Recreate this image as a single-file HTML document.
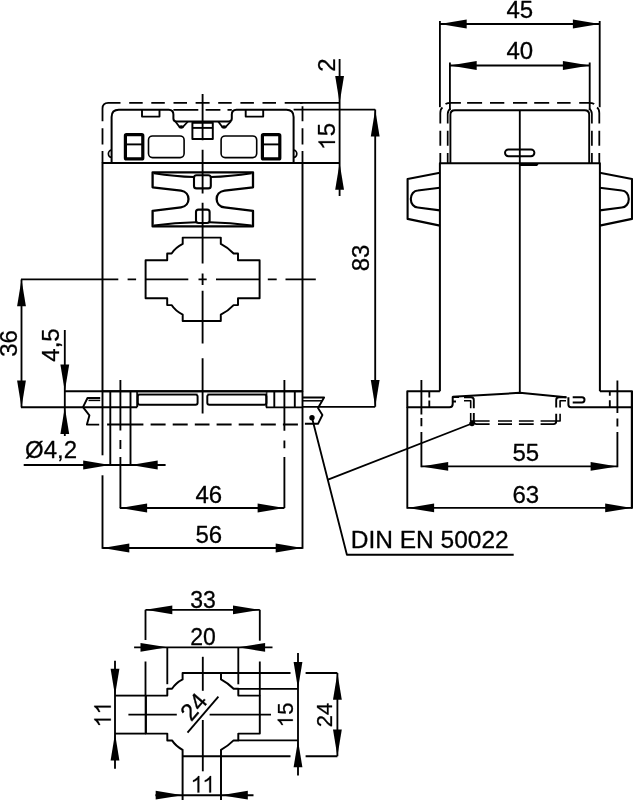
<!DOCTYPE html>
<html><head><meta charset="utf-8"><style>
html,body{margin:0;padding:0;background:#fff;}
body{width:633px;height:800px;overflow:hidden;}
svg{display:block;will-change:transform;}
svg text{font-family:"Liberation Sans",sans-serif;fill:#000;stroke:#000;stroke-width:0.3px;}
</style></head><body>
<svg width="633" height="800" viewBox="0 0 633 800" stroke="#000" fill="none" stroke-linecap="butt" stroke-linejoin="round">
<path d="M102.5,121.2 V108.5 Q102.5,102.8 108.2,102.8 H120.5 M129.2,102.8 H142.7 M151.3,102.8 H164.8 M173.5,102.8 H187 M195.6,102.8 H209.6 M218.2,102.8 H231.7 M240.4,102.8 H253.9 M262.5,102.8 H276 M284.7,102.8 H302.5 M302.5,106.3 V121.2 M102.5,128.3 V144.5 M102.5,151 V163 M302.5,128.3 V144.5 M302.5,151 V163" stroke-width="1.8" fill="none"/>
<path d="M111.6,163 V117 Q111.6,109.8 118.8,109.8 H168.7 Q173.4,110 173.4,114.5 V118.5 Q173.4,121.5 176.5,121.5 H228.7 Q231.8,121.5 231.8,118.5 V114.5 Q231.8,110 236.5,109.8 H286.4 Q293.6,109.8 293.6,117 V163" stroke-width="2" fill="none"/>
<path d="M173.4,109.8 H198.3 M205.6,109.8 H220.4 M227.5,109.8 H231.8" stroke-width="1.8" fill="none"/>
<polyline points="142,109.8 142,116.6 159.5,116.6 159.5,109.8" stroke-width="1.9" fill="none"/>
<polyline points="245.7,109.8 245.7,116.6 263.2,116.6 263.2,109.8" stroke-width="1.9" fill="none"/>
<rect x="125.4" y="134.7" width="17.4" height="24.2" rx="1" stroke-width="3.2" fill="none"/>
<line x1="124.8" y1="144.4" x2="143.4" y2="144.4" stroke-width="1.9"/>
<rect x="262.4" y="134.7" width="17.4" height="24.2" rx="1" stroke-width="3.2" fill="none"/>
<line x1="261.8" y1="144.4" x2="280.4" y2="144.4" stroke-width="1.9"/>
<rect x="148.5" y="136" width="35.6" height="21.6" rx="4" stroke-width="1.6" fill="none"/>
<rect x="221.1" y="136" width="35.6" height="21.6" rx="4" stroke-width="1.6" fill="none"/>
<path d="M111.6,150.2 A3.2,3.6 0 0 0 111.6,157.4" stroke-width="1.7" fill="none"/>
<path d="M293.6,150.2 A3.2,3.6 0 0 1 293.6,157.4" stroke-width="1.7" fill="none"/>
<rect x="192.4" y="122.7" width="20.4" height="16.4" stroke-width="1.95" fill="none"/>
<line x1="192.4" y1="127.9" x2="212.8" y2="127.9" stroke-width="1.9"/>
<polyline points="175.4,121.5 179.7,127.2 182.7,127.2 188,121.5" stroke-width="1.8" fill="none"/>
<ellipse cx="181.2" cy="127" rx="2.6" ry="1.8" fill="#000" stroke="none"/>
<polyline points="218.2,121.5 222.5,127.2 225.5,127.2 230.8,121.5" stroke-width="1.8" fill="none"/>
<ellipse cx="224" cy="127" rx="2.6" ry="1.8" fill="#000" stroke="none"/>
<rect x="102.5" y="163" width="200" height="228.3" stroke-width="1.95" fill="none"/>
<path d="M152.6,172.3 H253 V187.3 L224.6,190.6 C214,192 214,206 224.6,207.4 L253,210.8 V226.4 H152.6 V210.8 L181,207.4 C191,206 191,192 181,190.6 L152.6,187.3 Z" stroke-width="2.3" fill="none"/>
<path d="M154,173.2 Q175,176.5 194,177" stroke-width="2" fill="none"/>
<path d="M251.6,173.2 Q230,176.5 210.8,177" stroke-width="2" fill="none"/>
<path d="M154,225.5 Q175,222.7 196,222.3" stroke-width="2" fill="none"/>
<path d="M251.6,225.5 Q230,222.7 209.6,222.3" stroke-width="2" fill="none"/>
<rect x="194" y="175.2" width="16.8" height="13.2" rx="2.5" stroke-width="2.1" fill="none"/>
<rect x="196" y="209.6" width="13.6" height="13.4" rx="2.5" stroke-width="2.1" fill="none"/>
<path d="M145.6,260.3 L167.2,260.3 L167.2,253.5 L171.6,253.5 Q175.3,247.7 182.7,243.9 L182.7,237.6 L220.8,237.6 L220.8,243.9 Q228.2,247.7 233.6,253.5 L238,253.5 L238,260.3 L259.6,260.3 L259.6,298.3 L238,298.3 L238,305.1 L233.6,305.1 Q228.2,310.9 220.8,314.7 L220.8,321 L182.7,321 L182.7,314.7 Q175.3,310.9 171.6,305.1 L167.2,305.1 L167.2,298.3 L145.6,298.3 Z" stroke-width="1.95" fill="none"/>
<path d="M202.6,94 V140.3 M202.6,149.7 V193.4 M202.6,202.8 V263.6 M202.6,273.5 V285 M202.6,290.7 V343.6 M202.6,358.2 V413.4" stroke-width="1.85" fill="none"/>
<path d="M21,279.3 H118.3 M127.6,279.3 H136.1 M145.5,279.3 H188.3 M198.5,279.3 H206.7 M216,279.3 H259.7 M267.8,279.3 H276.7 M285.5,279.3 H315.8" stroke-width="1.85" fill="none"/>
<line x1="64.5" y1="391.3" x2="302.5" y2="391.3" stroke-width="1.9"/>
<line x1="21" y1="407.2" x2="137.2" y2="407.2" stroke-width="1.9"/>
<line x1="266" y1="407.4" x2="302.5" y2="407.4" stroke-width="1.9"/>
<line x1="110.3" y1="391.3" x2="110.3" y2="407.2" stroke-width="1.9"/>
<line x1="130.5" y1="391.3" x2="130.5" y2="407.2" stroke-width="1.9"/>
<line x1="137.2" y1="391.3" x2="137.2" y2="407.2" stroke-width="1.9"/>
<line x1="274.3" y1="391.3" x2="274.3" y2="407.4" stroke-width="1.9"/>
<line x1="294.8" y1="391.3" x2="294.8" y2="407.4" stroke-width="1.9"/>
<line x1="266.4" y1="391.3" x2="266.4" y2="407.4" stroke-width="1.9"/>
<rect x="137.8" y="394.6" width="59.8" height="10.2" rx="2" stroke-width="1.95" fill="none"/>
<rect x="207.3" y="394.6" width="59.1" height="10.2" rx="2" stroke-width="1.95" fill="none"/>
<path d="M137.8,393 H197.6 M207.3,393 H266.4" stroke="#8a8a8a" stroke-width="1.5"/>
<line x1="110.3" y1="407.2" x2="110.3" y2="465.5" stroke-width="1.9"/>
<line x1="130.5" y1="407.2" x2="130.5" y2="465.5" stroke-width="1.9"/>
<path d="M120.4,380 V430.5 M120.4,440 V449 M120.4,457 V508" stroke-width="1.85" fill="none"/>
<path d="M284.4,380 V430.8 M284.4,440.4 V448.3 M284.4,457 V508" stroke-width="1.85" fill="none"/>
<path d="M107.1,424.5 H143.4 M150.6,424.5 H165.6 M172.7,424.5 H187.7 M194.8,424.5 H209.5 M216.6,424.5 H231.6 M238.7,424.5 H253.7 M260.8,424.5 H275.8 M282.9,424.5 H297.9" stroke-width="1.9" fill="none"/>
<polyline points="100.2,398 87.5,398 83,407.2 89.4,415.4 86.9,424.6 99.2,424.6" stroke-width="1.9" fill="none"/>
<line x1="88.5" y1="400.4" x2="100.2" y2="400.4" stroke-width="1.5"/>
<polyline points="302.5,397.5 324.1,397.5 318,408 322.4,415 318,423.8 304.9,423.8" stroke-width="1.9" fill="none"/>
<line x1="302.5" y1="400.8" x2="322" y2="400.8" stroke-width="1.5"/>
<line x1="102.5" y1="391.3" x2="102.5" y2="455.3" stroke-width="1.9"/>
<line x1="102.5" y1="475.3" x2="102.5" y2="548.8" stroke-width="1.9"/>
<line x1="302.5" y1="391.3" x2="302.5" y2="548.8" stroke-width="1.9"/>
<line x1="300" y1="102.9" x2="339.6" y2="102.9" stroke-width="1.85"/>
<line x1="293.6" y1="109.6" x2="375.2" y2="109.6" stroke-width="1.85"/>
<line x1="302.5" y1="163" x2="339.6" y2="163" stroke-width="1.85"/>
<line x1="339.6" y1="59" x2="339.6" y2="196" stroke-width="1.85"/>
<polygon points="339.6,102.9 335.2,76.1 344,76.1" stroke="none" fill="#000"/>
<polygon points="339.6,163 344,189.8 335.2,189.8" stroke="none" fill="#000"/>
<text transform="translate(335.3 65.2) rotate(-90)" font-size="24" text-anchor="middle">2</text>
<g transform="translate(335 136.5) rotate(-90)"><path d="M0.29,0 H0.366 V0.69 H0.316 C0.29,0.63 0.2,0.55 0.103,0.51 V0.44 C0.18,0.465 0.25,0.505 0.29,0.545 Z" transform="translate(-13.51 0) scale(24 -24)" fill="#000" stroke="#000" stroke-width="0.01"/><text x="0.17" y="0" font-size="24">5</text></g>
<line x1="375.2" y1="109.6" x2="375.2" y2="406.8" stroke-width="1.85"/>
<line x1="302.5" y1="406.8" x2="375.2" y2="406.8" stroke-width="1.85"/>
<polygon points="375.2,109.6 379.6,136.4 370.8,136.4" stroke="none" fill="#000"/>
<polygon points="375.2,406.8 370.8,380 379.6,380" stroke="none" fill="#000"/>
<text transform="translate(368.8 258) rotate(-90)" font-size="24" text-anchor="middle">83</text>
<line x1="21.5" y1="279.5" x2="21.5" y2="407.4" stroke-width="1.85"/>
<polygon points="21.5,279.5 25.9,306.3 17.1,306.3" stroke="none" fill="#000"/>
<polygon points="21.5,407.4 17.1,380.6 25.9,380.6" stroke="none" fill="#000"/>
<text transform="translate(17.4 343.5) rotate(-90)" font-size="24" text-anchor="middle">36</text>
<line x1="64.8" y1="330" x2="64.8" y2="436" stroke-width="1.85"/>
<polygon points="64.8,391.3 60.4,364.5 69.2,364.5" stroke="none" fill="#000"/>
<polygon points="64.8,407.2 69.2,434 60.4,434" stroke="none" fill="#000"/>
<text transform="translate(58.5 345) rotate(-90)" font-size="24" text-anchor="middle">4,5</text>
<line x1="23.7" y1="465" x2="165.6" y2="465" stroke-width="1.85"/>
<polygon points="110,465 83.2,469.4 83.2,460.6" stroke="none" fill="#000"/>
<polygon points="130.9,465 157.7,460.6 157.7,469.4" stroke="none" fill="#000"/>
<text x="25" y="458" font-size="24" text-anchor="start">Ø4,2</text>
<line x1="119.8" y1="508" x2="284.4" y2="508" stroke-width="1.85"/>
<polygon points="120.3,508 147.1,503.6 147.1,512.4" stroke="none" fill="#000"/>
<polygon points="284.4,508 257.6,512.4 257.6,503.6" stroke="none" fill="#000"/>
<text x="208.8" y="502.5" font-size="24" text-anchor="middle">46</text>
<line x1="102.5" y1="548" x2="302.5" y2="548" stroke-width="1.85"/>
<polygon points="102.5,548 129.3,543.6 129.3,552.4" stroke="none" fill="#000"/>
<polygon points="302.5,548 275.7,552.4 275.7,543.6" stroke="none" fill="#000"/>
<text x="208.8" y="542.5" font-size="24" text-anchor="middle">56</text>
<circle cx="312" cy="417.8" r="2.7" fill="#000" stroke="none"/>
<circle cx="472" cy="423.5" r="2.7" fill="#000" stroke="none"/>
<polyline points="312,417.8 346.9,554.7 513.7,554.7" stroke-width="1.85" fill="none"/>
<line x1="472" y1="423.5" x2="328" y2="479.6" stroke-width="1.85"/>
<text x="350.7" y="547.9" font-size="24.5" text-anchor="start">DIN EN 50022</text>
<line x1="439.9" y1="21" x2="439.9" y2="107.2" stroke-width="1.85"/>
<line x1="599.7" y1="21" x2="599.7" y2="107.2" stroke-width="1.85"/>
<line x1="449.9" y1="62.5" x2="449.9" y2="110" stroke-width="1.85"/>
<line x1="589.7" y1="62.5" x2="589.7" y2="110" stroke-width="1.85"/>
<line x1="439.9" y1="24" x2="599.7" y2="24" stroke-width="1.85"/>
<polygon points="439.9,24 466.7,19.6 466.7,28.4" stroke="none" fill="#000"/>
<polygon points="599.7,24 572.9,28.4 572.9,19.6" stroke="none" fill="#000"/>
<text x="519.8" y="17.7" font-size="24" text-anchor="middle">45</text>
<line x1="449.9" y1="65.5" x2="589.7" y2="65.5" stroke-width="1.85"/>
<polygon points="449.9,65.5 476.7,61.1 476.7,69.9" stroke="none" fill="#000"/>
<polygon points="589.7,65.5 562.9,69.9 562.9,61.1" stroke="none" fill="#000"/>
<text x="519.8" y="59.2" font-size="24" text-anchor="middle">40</text>
<path d="M440.3,163.5 V153.1 M440.3,145.7 V130.8 M440.3,123.4 V113 Q440.3,109 442.5,107.5 M445.5,104 Q447.5,102.8 451,102.8 H460.9 M467.1,102.8 H482.1 M490,102.8 H504.3 M513,102.8 H527.2 M534.2,102.8 H549.2 M557.1,102.8 H570.6 M579.2,102.8 H588.5 Q592.5,102.8 594.2,104 M597,107.5 Q599.3,109 599.3,113 V123.4 M599.3,130.8 V145.7 M599.3,153.1 V163.5" stroke-width="1.8" fill="none"/>
<path d="M447.7,163.5 V153.1 M447.7,145.7 V130.8 M447.7,123.4 V114 Q447.7,110.5 450.5,108.5 M591.9,163.5 V153.1 M591.9,145.7 V130.8 M591.9,123.4 V114 Q591.9,110.5 589.1,108.5" stroke-width="1.7" fill="none"/>
<path d="M450.4,163.5 V114.7 Q450.4,110.2 454.9,110.2 H584.7 Q589.2,110.2 589.2,114.7 V163.5" stroke-width="1.9" fill="none"/>
<rect x="505" y="149.4" width="29.4" height="6.8" rx="3.4" stroke-width="1.95" fill="none"/>
<polygon points="519.8,163.3 537,163.3 538.5,164.5 537,166 519.8,166" fill="#000" stroke="none"/>
<line x1="519.8" y1="110.2" x2="519.8" y2="392.8" stroke-width="1.85"/>
<path d="M439.9,391.3 V163.3 H599.9 V391.3" stroke-width="2" fill="none"/>
<polyline points="439.9,172.8 407.6,179 407.6,218.9 439.9,225.6" stroke-width="2.1" fill="none"/>
<path d="M439.9,187.7 L417.8,190.5 A7,8.5 0 0 0 417.8,207.5 L439.9,210.4" stroke-width="2.1" fill="none"/>
<polyline points="599.7,172.8 632,179 632,218.9 599.7,225.6" stroke-width="2.1" fill="none"/>
<path d="M599.7,187.7 L621.8,190.5 A7,8.5 0 0 1 621.8,207.5 L599.7,210.4" stroke-width="2.1" fill="none"/>
<path d="M439.9,391.3 H407.3 V407.2 H449.5 Q452.7,407.2 452.7,404 V397 H459 M452.7,401.6 H456" stroke-width="2" fill="none"/>
<path d="M452.7,396.8 L519.8,392.8 L566,397.2" stroke-width="2" fill="none"/>
<path d="M599.9,391.3 H632 V407.2 H571 Q568.4,407.2 568.4,404.5 V397.2 M572.7,397.2 H582 Q584.5,397.2 584.5,399.8 Q584.5,402.5 582,402.5 H572.7" stroke-width="2" fill="none"/>
<path d="M429.3,391.3 V397.5 M429.3,400.6 V407.2 M609.8,391.3 V395.8 M609.8,400.3 V407.2" stroke-width="1.85" fill="none"/>
<path d="M464,397.2 H471 Q473.8,397.2 473.8,400 V408.3 M473.8,413 V421.3 Q473.8,424.1 476.6,424.1 H489.6 M498,424.1 H512 M518.9,424.1 H533.7 M540.6,424.1 H553.4 Q556.2,424.1 556.2,421.3 V413.7 M556.2,407.6 V400 Q556.2,397.2 559,397.2 H566.7" stroke-width="1.9" fill="none"/>
<path d="M464,400.8 H470.7 V408.3 M470.7,413 V421 H489.6 M498,421 H512 M518.9,421 H533.7 M540.6,421 H560.1 V413.7 M560.1,407.6 V400.8 H566" stroke-width="1.6" fill="none"/>
<path d="M421.4,380 V414.4 M421.4,418.1 V426.3 M421.4,431.9 V467.2" stroke-width="1.85" fill="none"/>
<path d="M617.4,380.4 V413 M617.4,418.4 V426.6 M617.4,432 V467.2" stroke-width="1.85" fill="none"/>
<line x1="421.4" y1="466.4" x2="617.4" y2="466.4" stroke-width="1.85"/>
<polygon points="421.4,466.4 448.2,462 448.2,470.8" stroke="none" fill="#000"/>
<polygon points="617.4,466.4 590.6,470.8 590.6,462" stroke="none" fill="#000"/>
<text x="525.8" y="461.3" font-size="24" text-anchor="middle">55</text>
<line x1="407.3" y1="407.2" x2="407.3" y2="508.7" stroke-width="1.9"/>
<line x1="632" y1="391.3" x2="632" y2="508.7" stroke-width="2.4"/>
<line x1="407.3" y1="507.9" x2="632" y2="507.9" stroke-width="1.85"/>
<polygon points="407.3,507.9 434.1,503.5 434.1,512.3" stroke="none" fill="#000"/>
<polygon points="632,507.9 605.2,512.3 605.2,503.5" stroke="none" fill="#000"/>
<text x="525.8" y="503" font-size="24" text-anchor="middle">63</text>
<path d="M145.8,695.6 L167.3,695.6 L167.3,688.8 L172,688.8 Q175.8,683 182.6,679.4 L182.6,672.9 L221,672.9 L221,679.4 Q227.8,683 233.6,688.8 L238.3,688.8 L238.3,695.6 L259.8,695.6 L259.8,733.6 L238.3,733.6 L238.3,740.4 L233.6,740.4 Q227.8,746.2 221,749.8 L221,801 M182.6,801 L182.6,749.8 Q175.8,746.2 172,740.4 L167.3,740.4 L167.3,733.6 L145.8,733.6 L145.8,695.6" stroke-width="1.95" fill="none"/>
<line x1="145.5" y1="609.8" x2="145.5" y2="640" stroke-width="1.85"/>
<line x1="145.5" y1="661.5" x2="145.5" y2="695.6" stroke-width="1.85"/>
<line x1="259.8" y1="609.8" x2="259.8" y2="640.7" stroke-width="1.85"/>
<line x1="259.8" y1="661.5" x2="259.8" y2="695.6" stroke-width="1.85"/>
<line x1="145.5" y1="609.8" x2="259.8" y2="609.8" stroke-width="1.85"/>
<polygon points="145.5,609.8 172.3,605.4 172.3,614.2" stroke="none" fill="#000"/>
<polygon points="259.8,609.8 233,614.2 233,605.4" stroke="none" fill="#000"/>
<text x="203" y="607.5" font-size="23" text-anchor="middle">33</text>
<line x1="167.3" y1="647.3" x2="167.3" y2="684.2" stroke-width="1.85"/>
<line x1="238.3" y1="647.3" x2="238.3" y2="684.3" stroke-width="1.85"/>
<line x1="134.1" y1="647.3" x2="272.5" y2="647.3" stroke-width="1.85"/>
<polygon points="167.3,647.3 140.5,651.7 140.5,642.9" stroke="none" fill="#000"/>
<polygon points="238.3,647.3 265.1,642.9 265.1,651.7" stroke="none" fill="#000"/>
<text x="203" y="644.8" font-size="23" text-anchor="middle">20</text>
<line x1="202.8" y1="656.8" x2="202.8" y2="690.8" stroke-width="1.85"/>
<line x1="202.8" y1="720" x2="202.8" y2="771.3" stroke-width="1.85"/>
<line x1="128.4" y1="714.6" x2="176.8" y2="714.6" stroke-width="1.85"/>
<line x1="209.6" y1="714.6" x2="271" y2="714.6" stroke-width="1.85"/>
<line x1="115" y1="695.6" x2="145.8" y2="695.6" stroke-width="1.85"/>
<line x1="115" y1="733.6" x2="145.8" y2="733.6" stroke-width="1.85"/>
<line x1="145.8" y1="695.6" x2="145.8" y2="733.6" stroke-width="1.95"/>
<line x1="115" y1="660.7" x2="115" y2="768.7" stroke-width="1.85"/>
<polygon points="115,695.6 110.6,668.8 119.4,668.8" stroke="none" fill="#000"/>
<polygon points="115,733.6 119.4,760.4 110.6,760.4" stroke="none" fill="#000"/>
<g transform="translate(110.8 714.5) rotate(-90)"><path d="M0.29,0 H0.366 V0.69 H0.316 C0.29,0.63 0.2,0.55 0.103,0.51 V0.44 C0.18,0.465 0.25,0.505 0.29,0.545 Z" transform="translate(-12.96 0) scale(24 -24)" fill="#000" stroke="#000" stroke-width="0.01"/><path d="M0.29,0 H0.366 V0.69 H0.316 C0.29,0.63 0.2,0.55 0.103,0.51 V0.44 C0.18,0.465 0.25,0.505 0.29,0.545 Z" transform="translate(0 0) scale(24 -24)" fill="#000" stroke="#000" stroke-width="0.01"/></g>
<line x1="221" y1="673" x2="290.5" y2="673" stroke-width="1.85"/>
<line x1="305.6" y1="673" x2="337.4" y2="673" stroke-width="1.85"/>
<line x1="182.6" y1="756.2" x2="290.5" y2="756.2" stroke-width="1.85"/>
<line x1="305.6" y1="756.2" x2="337.4" y2="756.2" stroke-width="1.85"/>
<line x1="337.4" y1="673" x2="337.4" y2="756.2" stroke-width="1.85"/>
<polygon points="337.4,673 341.8,699.8 333,699.8" stroke="none" fill="#000"/>
<polygon points="337.4,756.2 333,729.4 341.8,729.4" stroke="none" fill="#000"/>
<text transform="translate(332 715) rotate(-90)" font-size="22" text-anchor="middle">24</text>
<line x1="238.3" y1="688.8" x2="298" y2="688.8" stroke-width="1.85"/>
<line x1="238.3" y1="740.4" x2="298" y2="740.4" stroke-width="1.85"/>
<line x1="298" y1="653" x2="298" y2="775.6" stroke-width="1.85"/>
<polygon points="298,688.8 293.6,662 302.4,662" stroke="none" fill="#000"/>
<polygon points="298,740.4 302.4,767.2 293.6,767.2" stroke="none" fill="#000"/>
<g transform="translate(292.8 715) rotate(-90)"><path d="M0.29,0 H0.366 V0.69 H0.316 C0.29,0.63 0.2,0.55 0.103,0.51 V0.44 C0.18,0.465 0.25,0.505 0.29,0.545 Z" transform="translate(-12.39 0) scale(22 -22)" fill="#000" stroke="#000" stroke-width="0.01"/><text x="0.15" y="0" font-size="22">5</text></g>
<line x1="155.4" y1="795.2" x2="253.5" y2="795.2" stroke-width="1.85"/>
<polygon points="182.5,795.2 155.7,799.6 155.7,790.8" stroke="none" fill="#000"/>
<polygon points="221,795.2 247.8,790.8 247.8,799.6" stroke="none" fill="#000"/>
<g transform="translate(202.3 792.6)"><path d="M0.29,0 H0.366 V0.69 H0.316 C0.29,0.63 0.2,0.55 0.103,0.51 V0.44 C0.18,0.465 0.25,0.505 0.29,0.545 Z" transform="translate(-11.76 0) scale(24 -24)" fill="#000" stroke="#000" stroke-width="0.01"/><path d="M0.29,0 H0.366 V0.69 H0.316 C0.29,0.63 0.2,0.55 0.103,0.51 V0.44 C0.18,0.465 0.25,0.505 0.29,0.545 Z" transform="translate(0 0) scale(24 -24)" fill="#000" stroke="#000" stroke-width="0.01"/></g>
<line x1="187.5" y1="732.7" x2="218.4" y2="696.7" stroke-width="1.85"/>
<text transform="translate(200 712) rotate(-49.4)" font-size="24" text-anchor="middle">24</text>
</svg>
</body></html>
